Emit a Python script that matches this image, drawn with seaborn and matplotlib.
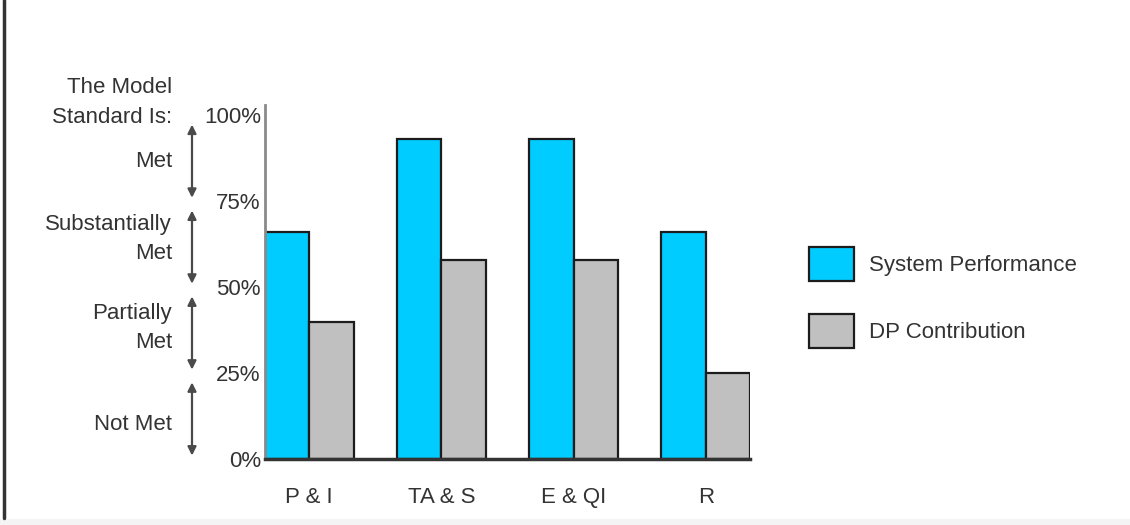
import matplotlib
matplotlib.use("Agg")
import matplotlib.pyplot as plt
from matplotlib.patches import Patch, Rectangle
from matplotlib.lines import Line2D
import seaborn as sns
import pandas as pd

# --- data -------------------------------------------------------------
categories = ["P & I", "TA & S", "E & QI", "R"]
series_names = ["System Performance", "DP Contribution"]
system_performance = [66, 93, 93, 66]
dp_contribution = [40, 58, 58, 25]
y_ticks = [0, 25, 50, 75, 100]
y_tick_labels = ["0%", "25%", "50%", "75%", "100%"]
band_labels = ["Not Met", "Partially\nMet", "Substantially\nMet", "Met"]
scale_title = "The Model\nStandard Is:"

colors = {"System Performance": "#00CCFF", "DP Contribution": "#C0C0C0"}
text_color = "#333333"

df = pd.DataFrame({
    "category": categories * 2,
    "series": [series_names[0]] * len(categories) + [series_names[1]] * len(categories),
    "value": system_performance + dp_contribution,
})

sns.set_style("white")
plt.rcParams["font.family"] = ["Liberation Sans", "DejaVu Sans"]
FS = 16
px = FS * 100 / 72  # font size in pixels

W, H = 1130, 525
fig = plt.figure(figsize=(W / 100, H / 100), dpi=100)
ax = fig.add_axes([265 / W, 66 / H, 485 / W, 354 / H])

sns.barplot(data=df, x="category", y="value", hue="series", order=categories,
            hue_order=series_names, palette=colors, width=0.67,
            edgecolor="#1c1c1c", linewidth=1.6, saturation=1, legend=False,
            errorbar=None, ax=ax)

ax.set_xlim(-0.335, len(categories) - 1 + 0.335)
ax.set_ylim(0, 103)
ax.set_xlabel("")
ax.set_ylabel("")
ax.set_yticks(y_ticks)
ax.set_yticklabels(y_tick_labels)
ax.tick_params(axis="both", length=0, labelsize=FS, labelcolor=text_color)
ax.tick_params(axis="y", pad=3)
ax.tick_params(axis="x", pad=20)
for side in ("top", "right"):
    ax.spines[side].set_visible(False)
ax.spines["left"].set_color("#8a8a8a")
ax.spines["left"].set_linewidth(2)
ax.spines["bottom"].set_color("#333333")
ax.spines["bottom"].set_linewidth(2.5)

# --- performance bands with double arrows -----------------------------
tr = ax.get_yaxis_transform()
arrow_x = (192 - 265) / 485
text_x = (172 - 265) / 485
label_centers = [10, 38, 64, 86.5]
for lo, hi, label, yc in zip(y_ticks[:-1], y_ticks[1:], band_labels, label_centers):
    ax.annotate("", xy=(arrow_x, lo + 1.0), xytext=(arrow_x, hi - 2.7),
                xycoords=tr, textcoords=tr, annotation_clip=False,
                arrowprops=dict(arrowstyle="<|-|>,head_length=0.5,head_width=0.25",
                                color="#4a4a4a", lw=1.6, shrinkA=0, shrinkB=0))
    ax.text(text_x, yc, label, transform=tr, ha="right", va="center",
            fontsize=FS, color=text_color, linespacing=1.5, clip_on=False)

ax.text(text_x, 103.8, scale_title, transform=tr, ha="right", va="center",
        fontsize=FS, color=text_color, linespacing=1.55, clip_on=False)

# --- legend -------------------------------------------------------------
handles = [Patch(facecolor=colors[s], edgecolor="#1c1c1c", linewidth=1.6)
           for s in series_names]
box_h = 34
hh = (box_h - 0.245 * px) / (0.65 * px)
row_h = hh * px
fig.legend(handles, series_names, loc="upper left",
           bbox_to_anchor=(809 / W, 1 - 247 / H), frameon=False,
           fontsize=FS, labelcolor=text_color, borderpad=0, borderaxespad=0,
           handlelength=45 / px, handleheight=hh,
           handletextpad=15 / px, labelspacing=(77 - row_h) / px)

# --- panel border ---------------------------------------------------------
fig.add_artist(Rectangle((0, 0), 1, 6 / H, transform=fig.transFigure,
                         facecolor="#f4f4f4", edgecolor="none", zorder=0))
fig.add_artist(Line2D([4 / W, 4 / W], [7 / H, 1.0], transform=fig.transFigure,
                      color="#333333", lw=2.5))

fig.savefig("out.png", dpi=100)
